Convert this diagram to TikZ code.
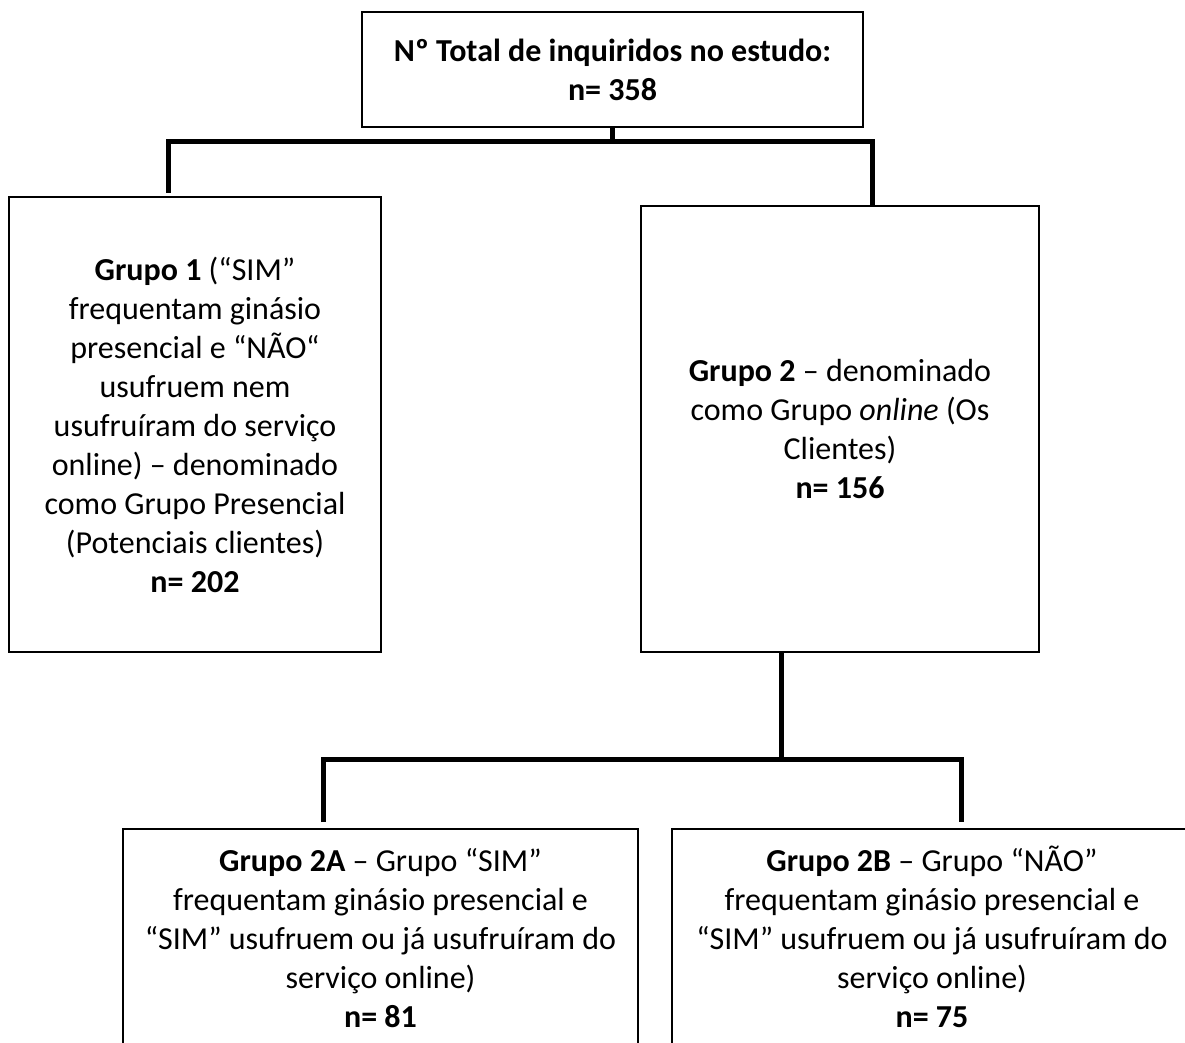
\documentclass[tikz,border=0pt]{standalone}
\usepackage{fontspec}
\setmainfont{Carlito}
\usetikzlibrary{positioning,calc}

\begin{document}
\begin{tikzpicture}[x=0.5pt,y=-0.5pt,
  box/.style={draw,line width=1pt,align=center,inner sep=0pt,
    font=\fontsize{16pt}{19.5pt}\selectfont},
  link/.style={line width=2.5pt}]
\useasboundingbox (0,0) rectangle (1185,1043);
% boxes
\node[box,minimum width=250.5pt,minimum height=57.5pt] (total) at (612.5,69.5)
{\textbf{Nº Total de inquiridos no estudo:}\\\textbf{n= 358}};
\node[box,minimum width=186pt,minimum height=227.5pt] (grupo1) at (195,424.5)
{\textbf{Grupo 1} (“SIM”\\frequentam ginásio\\presencial e “NÃO“\\usufruem nem\\usufruíram do serviço\\online) – denominado\\como Grupo Presencial\\(Potenciais clientes)\\\textbf{n= 202}};
\node[box,minimum width=199pt,minimum height=223pt] (grupo2) at (840,429)
{\textbf{Grupo 2} – denominado\\como Grupo \textit{online} (Os\\Clientes)\\\textbf{n= 156}};
\node[box,anchor=north,minimum width=257.5pt,inner ysep=8.5pt] (grupo2a) at (380.5,828)
{\vphantom{Ã}\textbf{Grupo 2A} – Grupo “SIM”\\frequentam ginásio presencial e\\“SIM” usufruem ou já usufruíram do\\serviço online)\\\textbf{n= 81}};
\node[box,anchor=north,minimum width=260pt,inner ysep=8.5pt] (grupo2b) at (932,828)
{\vphantom{Ã}\textbf{Grupo 2B} – Grupo “NÃO”\\frequentam ginásio presencial e\\“SIM” usufruem ou já usufruíram do\\serviço online)\\\textbf{n= 75}};
% connectors
\coordinate (bar1) at (0,142);
\coordinate (bar2) at (0,759);
\coordinate (in1) at ([xshift=-13.5pt,yshift=1.5pt]grupo1.north);
\coordinate (in2) at ([xshift=16pt]grupo2.north);
\coordinate (out2) at ([xshift=-29.5pt]grupo2.south);
\coordinate (in2a) at ([xshift=-28.75pt,yshift=3pt]grupo2a.north);
\coordinate (in2b) at ([xshift=14.5pt,yshift=3pt]grupo2b.north);
\draw[link] (total.south) -- (total.south |- bar1);
\draw[link] (in1) -- (in1 |- bar1) -| (in2);
\draw[link] (out2) -- (out2 |- bar2);
\draw[link] (in2a) -- (in2a |- bar2) -| (in2b);
\end{tikzpicture}
\end{document}
